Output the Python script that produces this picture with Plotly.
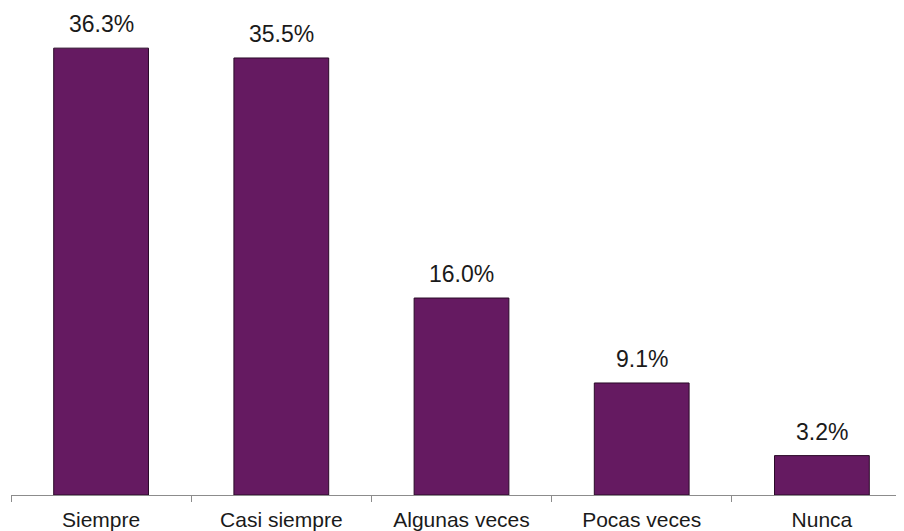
import plotly.graph_objects as go

categories = ["Siempre", "Casi siempre", "Algunas veces", "Pocas veces", "Nunca"]
values = [36.3, 35.5, 16.0, 9.1, 3.2]
labels = [f"{v:.1f}%" for v in values]

FONT = "Liberation Sans, Arial"

fig = go.Figure(go.Bar(
    x=categories, y=values,
    marker=dict(color="#651A61", line=dict(color="#2a0a28", width=1)),
    width=0.526,
))
for c, v, t in zip(categories, values, labels):
    fig.add_annotation(x=c, y=v, text=t, showarrow=False, yanchor="bottom",
                       yshift=9, font=dict(family=FONT, size=23, color="#1a1a1a"))

fig.update_layout(
    width=904, height=531,
    margin=dict(l=3, r=0, t=0, b=44),
    paper_bgcolor="white", plot_bgcolor="white",
    showlegend=False,
    xaxis=dict(type="category", range=[-0.5, 4.5], showline=True, linecolor="#8c8c8c",
               linewidth=1, ticks="outside", tickson="boundaries", ticklen=6,
               tickcolor="#8c8c8c", showgrid=False, automargin=False,
               ticklabelstandoff=6,
               tickfont=dict(family=FONT, size=21, color="#1a1a1a")),
    yaxis=dict(range=[0, 39.56], visible=False, showgrid=False, automargin=False),
)
fig.write_html("out.html")
